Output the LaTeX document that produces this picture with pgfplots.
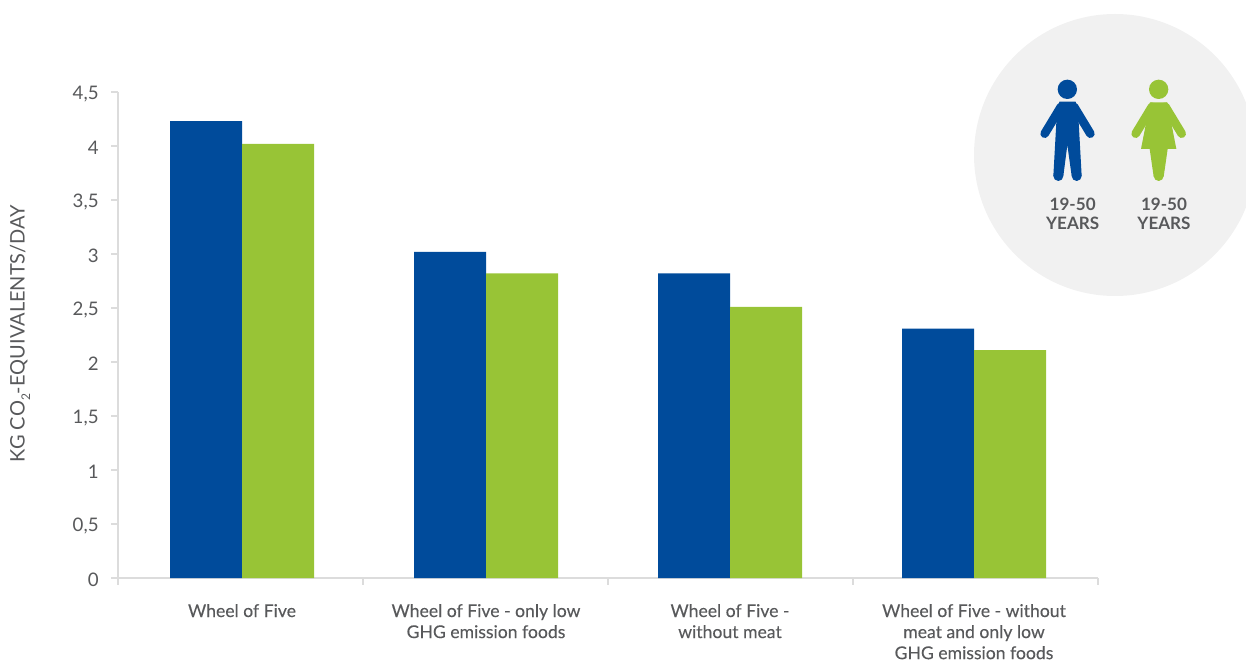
\documentclass[border=0pt]{standalone}
\usepackage{fontspec}
\setmainfont{Lato}
\newfontfamily\medfont[FakeBold=0.2]{Lato}
\usepackage{pgfplots}
\pgfplotsset{compat=1.18}
\definecolor{manblue}{HTML}{004B9B}
\definecolor{womangreen}{HTML}{98C436}
\definecolor{txtgrey}{HTML}{58595B}
\definecolor{axgrey}{HTML}{DCDCDC}
\definecolor{circgrey}{HTML}{F1F1F1}
\begin{document}
\begin{tikzpicture}[x=1pt,y=1pt]
  \path[use as bounding box] (0,0) rectangle (934.5,495.75);
  \clip (0,0) rectangle (934.5,495.75);
  % grey circle behind the icons
  \fill[circgrey] (836.25,379.5) circle (105.75);
  \begin{axis}[
      at={(88.5pt,62.25pt)}, anchor=south west,
      scale only axis, width=735pt, height=364.5pt,
      ybar=0pt, bar width=54pt,
      xmin=-0.5082, xmax=3.5082,
      ymin=0, ymax=4.5,
      axis x line=bottom, axis y line=left,
      axis line style={draw=axgrey, line width=1.5pt, -},
      tick style={draw=axgrey, line width=1.2pt},
      tick align=outside, major tick length=5pt,
      xtick={-0.5082,0.4959,1.5,2.5041,3.5082}, xticklabels={},
      extra x ticks={0,1,2,3},
      extra x tick labels={Wheel of Five,
        {Wheel of Five - only low\\GHG emission foods},
        {Wheel of Five -\\without meat},
        {Wheel of Five - without\\meat and only low\\GHG emission foods}},
      extra x tick style={major tick length=0pt,
        tick label style={font=\medfont\fontsize{13.2}{15.8}\selectfont, text=txtgrey,
          align=center, yshift=-16pt}},
      ytick={0,0.5,...,4.5},
      /pgf/number format/use comma,
      /pgf/number format/assume math mode=true,
      yticklabel style={font=\fontsize{14}{15}\selectfont, text=txtgrey, xshift=-6pt, yshift=-1.3pt},
      ylabel={KG CO\raisebox{-0.55ex}{\fontsize{9}{9}\selectfont 2}-EQUIVALENTS/DAY},
      ylabel style={font=\fontsize{15}{16}\selectfont, text=txtgrey,
        at={(axis description cs:-0.1,0.503)}, anchor=center},
    ]
    \addplot[fill=manblue, draw=none] coordinates {(0,4.23)(1,3.02)(2,2.82)(3,2.31)};
    \addplot[fill=womangreen, draw=none] coordinates {(0,4.02)(1,2.82)(2,2.51)(3,2.11)};
  \end{axis}
  % person icons, coordinates in quarter points
  \begin{scope}[shift={(720,495.75)}, x=0.25pt, y=-0.25pt]
    \fill[manblue] (322,268) circle (29);
    \fill[manblue] (298,305) -- (347,305) -- (356,367) -- (365,528) -- (335,528) -- (322,435) -- (310,528) -- (280,528) -- (289,367) -- cycle;
    \fill[manblue] (295,528) circle (15) (350,528) circle (15);
    \draw[manblue, line width=6.5pt, line cap=round] (303,320) -- (254,401) (342,320) -- (391,401);
    \fill[womangreen] (596,268) circle (29);
    \fill[womangreen] (570,307) -- (622,307) -- (636,380) -- (649,447) -- (543,447) -- (556,380) -- cycle;
    \fill[womangreen] (569,447) -- (623,447) -- (611,530) -- (581,530) -- cycle;
    \fill[womangreen] (596,528) circle (15);
    \draw[womangreen, line width=6.5pt, line cap=round] (576,320) -- (527,401) (616,320) -- (665,401);
    \node[font=\bfseries\fontsize{12.8}{14.5}\selectfont, text=txtgrey, align=center, inner sep=0pt] at (338,641) {19-50\\YEARS};
    \node[font=\bfseries\fontsize{12.8}{14.5}\selectfont, text=txtgrey, align=center, inner sep=0pt] at (612,641) {19-50\\YEARS};
  \end{scope}
\end{tikzpicture}
\end{document}
